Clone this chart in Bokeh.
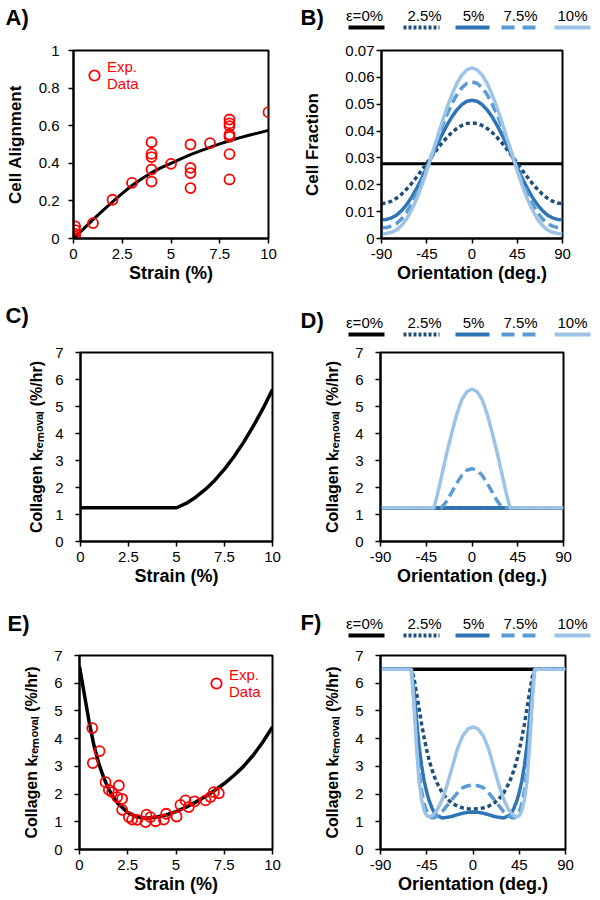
from bokeh.plotting import figure
from bokeh.layouts import column, row
from bokeh.models import FixedTicker, Legend, LegendItem, Range1d
from bokeh.core.properties import value
from bokeh.embed import file_html
from bokeh.resources import INLINE

FONT = "Liberation Sans"

# ---------------- data ----------------
# Panel A: cell alignment vs strain
A_exp_strain = [0.08, 0.08, 0.08, 0.08, 0.08, 1, 2, 3, 4, 4, 4, 4, 4, 5, 6, 6, 6, 6, 7,
                8, 8, 8, 8, 8, 8, 8, 10]
A_exp_align = [0.065, 0.045, 0.025, 0.01, 0.0, 0.082, 0.206, 0.296, 0.512, 0.45, 0.433,
               0.367, 0.303, 0.397, 0.5, 0.376, 0.348, 0.268, 0.507, 0.633, 0.612, 0.598,
               0.553, 0.541, 0.449, 0.314, 0.672]
A_fit_strain = [0, 0.5, 1, 1.5, 2, 2.5, 3, 3.5, 4, 4.5, 5, 5.5, 6, 6.5, 7, 7.5, 8, 8.5, 9, 9.5, 10]
A_fit_align = [0, 0.05, 0.1, 0.148, 0.195, 0.24, 0.282, 0.318, 0.35, 0.377, 0.4, 0.424, 0.446,
               0.466, 0.485, 0.503, 0.52, 0.535, 0.549, 0.562, 0.575]

# Panel B: cell fraction vs orientation
B_theta = [-90, -85, -80, -75, -70, -65, -60, -55, -50, -45, -40, -35, -30, -25, -20, -15, -10, -5,
           0, 5, 10, 15, 20, 25, 30, 35, 40, 45, 50, 55, 60, 65, 70, 75, 80, 85, 90]
B_theta_flat = [-90, 90]
B_eps0 = [0.0278, 0.0278]
B_eps25 = [0.0130, 0.0132, 0.0139, 0.0150, 0.0165, 0.0184, 0.0205, 0.0229, 0.0254, 0.0280,
           0.0306, 0.0331, 0.0355, 0.0376, 0.0395, 0.0410, 0.0421, 0.0428, 0.0430, 0.0428,
           0.0421, 0.0410, 0.0395, 0.0376, 0.0355, 0.0331, 0.0306, 0.0280, 0.0254, 0.0229,
           0.0205, 0.0184, 0.0165, 0.0150, 0.0139, 0.0132, 0.0130]
B_eps5 = [0.0070, 0.0071, 0.0077, 0.0087, 0.0104, 0.0126, 0.0154, 0.0187, 0.0224, 0.0264,
          0.0305, 0.0346, 0.0385, 0.0421, 0.0453, 0.0479, 0.0499, 0.0511, 0.0515, 0.0511,
          0.0499, 0.0479, 0.0453, 0.0421, 0.0385, 0.0346, 0.0305, 0.0264, 0.0224, 0.0187,
          0.0154, 0.0126, 0.0104, 0.0087, 0.0077, 0.0071, 0.0070]
B_eps75 = [0.0040, 0.0041, 0.0046, 0.0056, 0.0073, 0.0098, 0.0130, 0.0168, 0.0212, 0.0261,
           0.0312, 0.0363, 0.0414, 0.0460, 0.0502, 0.0536, 0.0562, 0.0578, 0.0583, 0.0578,
           0.0562, 0.0536, 0.0502, 0.0460, 0.0414, 0.0363, 0.0312, 0.0261, 0.0212, 0.0168,
           0.0130, 0.0098, 0.0073, 0.0056, 0.0046, 0.0041, 0.0040]
B_eps10 = [0.0018, 0.0019, 0.0023, 0.0032, 0.0049, 0.0073, 0.0107, 0.0148, 0.0197, 0.0252,
           0.0311, 0.0371, 0.0430, 0.0486, 0.0536, 0.0578, 0.0609, 0.0628, 0.0635, 0.0628,
           0.0609, 0.0578, 0.0536, 0.0486, 0.0430, 0.0371, 0.0311, 0.0252, 0.0197, 0.0148,
           0.0107, 0.0073, 0.0049, 0.0032, 0.0023, 0.0019, 0.0018]

# Panel C: removal rate vs strain
C_strain = [0, 5, 5.5, 6, 6.5, 7, 7.5, 8, 8.5, 9, 9.5, 10]
C_k = [1.25, 1.25, 1.41, 1.64, 1.93, 2.27, 2.68, 3.15, 3.68, 4.27, 4.92, 5.63]

# Panel D: removal rate vs orientation
D_theta_flat = [-90, 90]
D_eps0 = [1.25, 1.25]
D_eps25 = [1.25, 1.25]
D_eps5 = [1.25, 1.25]
D_theta_75 = [-90, -30, -25, -20, -15, -10, -5, 0, 5, 10, 15, 20, 25, 30, 90]
D_eps75 = [1.25, 1.25, 1.49, 1.82, 2.16, 2.45, 2.64, 2.7, 2.64, 2.45, 2.16, 1.82, 1.49, 1.25, 1.25]
D_theta_10 = [-90, -37.5, -35, -30, -25, -20, -15, -10, -5, 0, 5, 10, 15, 20, 25, 30, 35, 37.5, 90]
D_eps10 = [1.25, 1.25, 1.58, 2.4, 3.25, 4.0, 4.72, 5.25, 5.55, 5.65, 5.55, 5.25, 4.72, 4.0, 3.25,
           2.4, 1.58, 1.25, 1.25]

# Panel E: removal rate vs strain (model + experiment)
E_fit_strain = [0, 0.25, 0.5, 0.75, 1, 1.25, 1.5, 1.75, 2, 2.5, 3, 3.5, 4, 4.5, 5, 5.5, 6, 6.5,
                7, 7.5, 8, 8.5, 9, 9.5, 10]
E_fit_k = [6.6, 5.6, 4.6, 3.75, 3.1, 2.6, 2.2, 1.9, 1.65, 1.33, 1.17, 1.13, 1.17, 1.25, 1.37,
           1.52, 1.7, 1.9, 2.13, 2.38, 2.67, 3.0, 3.4, 3.88, 4.42]
E_exp_strain = [0.66, 1.04, 0.69, 1.35, 1.52, 1.69, 2.04, 1.95, 2.21, 2.21, 2.56, 2.73, 2.99,
                3.47, 3.68, 3.42, 3.94, 4.37, 4.49, 5.03, 5.23, 5.49, 5.66, 5.96, 6.53, 6.79,
                6.96, 7.22]
E_exp_k = [4.38, 3.55, 3.12, 2.43, 2.15, 2.07, 2.31, 1.89, 1.83, 1.43, 1.17, 1.08, 1.07, 1.26,
           1.17, 0.99, 1.02, 1.08, 1.29, 1.19, 1.61, 1.77, 1.53, 1.74, 1.77, 1.89, 2.07, 2.03]

# Panel F: removal rate vs orientation
F_theta = [-90, -60, -57.5, -55, -52.5, -50, -47.5, -45, -42.5, -40, -37.5, -35, -30, -25, -20,
           -15, -10, -5, 0, 5, 10, 15, 20, 25, 30, 35, 37.5, 40, 42.5, 45, 47.5, 50, 52.5, 55,
           57.5, 60, 90]
F_theta_flat = [-90, 90]
F_eps0 = [6.5, 6.5]
F_eps25 = [6.5, 6.5, 6.20, 5.65, 5.09, 4.52, 4.03, 3.58, 3.20, 2.89, 2.62, 2.40, 2.05, 1.81,
           1.66, 1.56, 1.50, 1.47, 1.46, 1.47, 1.50, 1.56, 1.66, 1.81, 2.05, 2.40, 2.62, 2.89,
           3.20, 3.58, 4.03, 4.52, 5.09, 5.65, 6.20, 6.5, 6.5]
F_eps5 = [6.5, 6.5, 5.79, 4.70, 3.74, 3.02, 2.47, 2.06, 1.74, 1.51, 1.32, 1.22, 1.14, 1.16,
          1.20, 1.26, 1.31, 1.34, 1.35, 1.34, 1.31, 1.26, 1.20, 1.16, 1.14, 1.22, 1.32, 1.51,
          1.74, 2.06, 2.47, 3.02, 3.74, 4.70, 5.79, 6.5, 6.5]
F_eps75 = [6.5, 6.5, 5.39, 3.88, 2.84, 2.13, 1.65, 1.37, 1.21, 1.14, 1.15, 1.20, 1.36, 1.59,
           1.83, 2.05, 2.23, 2.30, 2.33, 2.30, 2.23, 2.05, 1.83, 1.59, 1.36, 1.20, 1.15, 1.14,
           1.21, 1.37, 1.65, 2.13, 2.84, 3.88, 5.39, 6.5, 6.5]
F_eps10 = [6.5, 6.5, 5.30, 3.70, 2.45, 1.80, 1.40, 1.22, 1.18, 1.22, 1.30, 1.42, 1.80, 2.35,
           3.00, 3.65, 4.10, 4.35, 4.42, 4.35, 4.10, 3.65, 3.00, 2.35, 1.80, 1.42, 1.30, 1.22,
           1.18, 1.22, 1.40, 1.80, 2.45, 3.70, 5.30, 6.5, 6.5]

# ticks
STRAIN_TICKS = [0, 2.5, 5, 7.5, 10]
STRAIN_TICK_LABELS = ["0", "2.5", "5", "7.5", "10"]
ORIENT_TICKS = [-90, -45, 0, 45, 90]
ORIENT_TICK_LABELS = ["-90", "-45", "0", "45", "90"]
ALIGN_TICKS = [0, 0.2, 0.4, 0.6, 0.8, 1.0]
ALIGN_TICK_LABELS = ["0", "0.2", "0.4", "0.6", "0.8", "1"]
FRAC_TICKS = [0, 0.01, 0.02, 0.03, 0.04, 0.05, 0.06, 0.07]
FRAC_TICK_LABELS = ["0", "0.01", "0.02", "0.03", "0.04", "0.05", "0.06", "0.07"]
K_TICKS = [0, 1, 2, 3, 4, 5, 6, 7]
K_TICK_LABELS = ["0", "1", "2", "3", "4", "5", "6", "7"]

SERIES_LABELS = ["ε=0%", "2.5%", "5%", "7.5%", "10%"]

# ---------------- styles ----------------
COLORS = ["#000000", "#1F4E79", "#2E75B6", "#5B9BD5", "#9DC3E6"]
DASHES = ["solid", "4 3", "solid", "10 5", "solid"]
LEG_DASHES = ["solid", "3 2", "solid", "13 8", "solid"]
LEG_TEXT_X = [64, 124, 173, 220, 272]
LEG_LINE_X = [(48, 84), (103, 139), (155, 189), (201, 238), (254, 290)]
KLABEL = "Collagen k\u1d63\u2091\u2098\u2092\u1d65\u2090\u2097 (%/hr)"
PW = 300


def no_align(p):
    try:
        p.frame_align = False
    except Exception:
        pass


def main_fig(h, bl, br, bt, bb, xr, yr):
    p = figure(width=PW, height=h, x_range=Range1d(*xr), y_range=Range1d(*yr),
               output_backend="svg", toolbar_location=None,
               min_border_left=bl, min_border_right=br, min_border_top=bt,
               min_border_bottom=bb)
    no_align(p)
    p.xgrid.visible = False
    p.ygrid.visible = False
    p.outline_line_color = "black"
    p.outline_line_width = 2
    p.outline_line_alpha = 1.0
    p.border_fill_color = "white"
    return p


def style_axis(ax, ticks, labels, title, title_size, label_standoff, title_standoff):
    ax.ticker = FixedTicker(ticks=ticks)
    ax.major_label_overrides = {t: l for t, l in zip(ticks, labels)}
    ax.axis_label = title
    ax.axis_label_text_font = FONT
    ax.axis_label_text_font_style = "bold"
    ax.axis_label_text_font_size = f"{title_size}px"
    ax.axis_label_text_color = "black"
    ax.axis_label_standoff = title_standoff
    ax.major_label_text_font = FONT
    ax.major_label_text_font_size = "15px"
    ax.major_label_text_color = "black"
    ax.major_label_standoff = label_standoff
    ax.axis_line_width = 2
    ax.axis_line_color = "black"
    ax.major_tick_line_color = "black"
    ax.major_tick_line_width = 1.5
    ax.major_tick_in = 0
    ax.major_tick_out = 5
    ax.minor_tick_line_color = None


def strip_fig(h, label, label_x, label_y, legend=False, text_y=0, line_y=0):
    s = figure(width=PW, height=h, x_range=Range1d(0, PW), y_range=Range1d(h, 0),
               output_backend="svg", toolbar_location=None,
               x_axis_type=None, y_axis_type=None, min_border=0)
    no_align(s)
    s.outline_line_color = None
    s.text(x=[label_x], y=[label_y], text=[label], text_font=value(FONT), text_font_style="bold",
           text_font_size="22px", text_baseline="middle", text_align="left", text_color="black")
    if legend:
        s.text(x=LEG_TEXT_X, y=[text_y] * len(SERIES_LABELS), text=SERIES_LABELS,
               text_font=value(FONT), text_font_size="15px", text_baseline="middle",
               text_align="center", text_color="black")
        for (x0, x1), c, d in zip(LEG_LINE_X, COLORS, LEG_DASHES):
            s.line(x=[x0, x1], y=[line_y, line_y], line_color=c, line_width=4, line_dash=d)
    return s


def exp_legend(renderer, loc):
    leg = Legend(items=[LegendItem(label="Exp.\nData", renderers=[renderer])], location=loc,
                 border_line_color=None, background_fill_alpha=0, padding=0, margin=0,
                 spacing=0, glyph_width=26, glyph_height=26, label_standoff=0,
                 label_text_color="red", label_text_font=FONT, label_text_font_size="15px",
                 label_text_line_height=1.0)
    return leg


# ---------------- Panel A ----------------
pA = main_fig(258, 73, 32, 8, 62, (0, 10), (0, 1))
style_axis(pA.xaxis[0], STRAIN_TICKS, STRAIN_TICK_LABELS, "Strain (%)", 18, 5, 1)
style_axis(pA.yaxis[0], ALIGN_TICKS, ALIGN_TICK_LABELS, "Cell Alignment", 17, 9, 11)
pA.line(A_fit_strain, A_fit_align, line_color="black", line_width=3)
rA = pA.scatter(A_exp_strain, A_exp_align, size=10, marker="circle", fill_color=None,
                line_color="red", line_width=1.8)
pA.add_layout(exp_legend(rA, (8, 146)))

# ---------------- Panel B ----------------
pB = main_fig(258, 78, 38, 8, 62, (-90, 90), (0, 0.07))
style_axis(pB.xaxis[0], ORIENT_TICKS, ORIENT_TICK_LABELS, "Orientation (deg.)", 18, 5, 1)
style_axis(pB.yaxis[0], FRAC_TICKS, FRAC_TICK_LABELS, "Cell Fraction", 17, 2, 20)
pB.line(B_theta_flat, B_eps0, line_color=COLORS[0], line_width=3, line_dash=DASHES[0])
for ys, c, d in zip([B_eps25, B_eps5, B_eps75, B_eps10], COLORS[1:], DASHES[1:]):
    pB.line(B_theta, ys, line_color=c, line_width=3.5, line_dash=d)

# ---------------- Panel C ----------------
pC = main_fig(256, 80, 28, 8, 59, (0, 10), (0, 7))
style_axis(pC.xaxis[0], STRAIN_TICKS, STRAIN_TICK_LABELS, "Strain (%)", 18, 5, 1)
style_axis(pC.yaxis[0], K_TICKS, K_TICK_LABELS, KLABEL, 16, 12, 7)
pC.line(C_strain, C_k, line_color="black", line_width=3.5)

# ---------------- Panel D ----------------
pD = main_fig(256, 80, 37, 8, 59, (-90, 90), (0, 7))
style_axis(pD.xaxis[0], ORIENT_TICKS, ORIENT_TICK_LABELS, "Orientation (deg.)", 18, 5, 1)
style_axis(pD.yaxis[0], K_TICKS, K_TICK_LABELS, KLABEL, 16, 12, 11)
pD.line(D_theta_flat, D_eps0, line_color=COLORS[0], line_width=3.5, line_dash=DASHES[0])
pD.line(D_theta_flat, D_eps25, line_color=COLORS[1], line_width=3.5, line_dash=DASHES[1])
pD.line(D_theta_flat, D_eps5, line_color=COLORS[2], line_width=3.5, line_dash=DASHES[2])
pD.line(D_theta_75, D_eps75, line_color=COLORS[3], line_width=3.5, line_dash=DASHES[3])
pD.line(D_theta_10, D_eps10, line_color=COLORS[4], line_width=3.5, line_dash=DASHES[4])

# ---------------- Panel E ----------------
pE = main_fig(252, 79, 28, 8, 50, (0, 10), (0, 7))
style_axis(pE.xaxis[0], STRAIN_TICKS, STRAIN_TICK_LABELS, "Strain (%)", 18, 5, 1)
style_axis(pE.yaxis[0], K_TICKS, K_TICK_LABELS, KLABEL, 16, 12, 11)
pE.line(E_fit_strain, E_fit_k, line_color="black", line_width=3.5)
rE = pE.scatter(E_exp_strain, E_exp_k, size=10, marker="circle", fill_color=None,
                line_color="red", line_width=1.8)
pE.add_layout(exp_legend(rE, (124, 149)))

# ---------------- Panel F ----------------
pF = main_fig(252, 80, 35, 8, 50, (-90, 90), (0, 7))
style_axis(pF.xaxis[0], ORIENT_TICKS, ORIENT_TICK_LABELS, "Orientation (deg.)", 18, 5, 1)
style_axis(pF.yaxis[0], K_TICKS, K_TICK_LABELS, KLABEL, 16, 12, 11)
pF.line(F_theta_flat, F_eps0, line_color=COLORS[0], line_width=3.5, line_dash=DASHES[0])
for ys, c, d in zip([F_eps25, F_eps5, F_eps75, F_eps10], COLORS[1:], DASHES[1:]):
    pF.line(F_theta, ys, line_color=c, line_width=3.5, line_dash=d)

# ---------------- strips (panel letters + legends) ----------------
sA = strip_fig(42, "A)", 5, 17)
sB = strip_fig(42, "B)", 0, 17, True, 15, 27)
sC = strip_fig(44, "C)", 5, 15)
sD = strip_fig(44, "D)", 0, 20, True, 22, 34)
sE = strip_fig(47, "E)", 7, 23)
sF = strip_fig(47, "F)", 0, 22, True, 23, 35)

layout = column(
    row(column(sA, pA), column(sB, pB)),
    row(column(sC, pC), column(sD, pD)),
    row(column(sE, pE), column(sF, pF)),
)

open("out.html", "w").write(file_html(layout, INLINE))
